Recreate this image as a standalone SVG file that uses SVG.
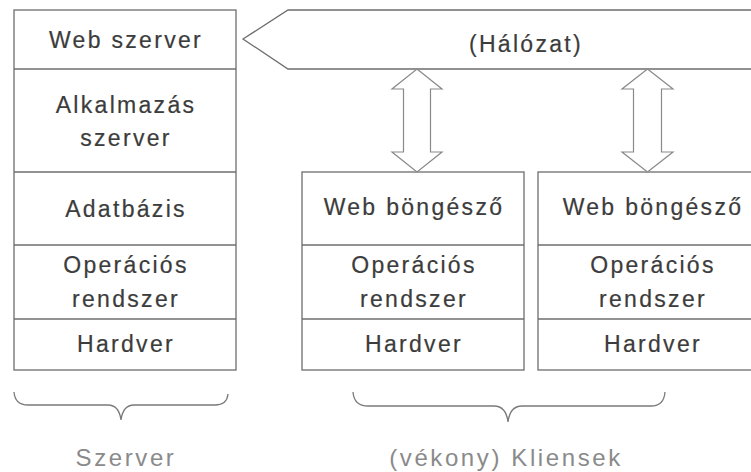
<svg xmlns="http://www.w3.org/2000/svg" width="751" height="472" viewBox="0 0 751 472">
  <style>
    .box { fill: #ffffff; stroke: #6e6e6e; stroke-width: 1.3; }
    .sep { stroke: #6e6e6e; stroke-width: 1.3; }
    .lbl { font-family: "Liberation Sans", Arial, sans-serif; font-size: 23px; letter-spacing: 2.3px; fill: #3c3c3c; stroke: #3c3c3c; stroke-width: 0.2; text-anchor: middle; }
    .cap { font-family: "Liberation Sans", Arial, sans-serif; font-size: 24px; letter-spacing: 2.6px; fill: #8a8a8a; text-anchor: middle; }
    .brace { fill: none; stroke: #7a7a7a; stroke-width: 1.3; }
    .dbl { fill: #ffffff; stroke: #8a8a8a; stroke-width: 1.2; stroke-linejoin: miter; }
  </style>
  <rect width="751" height="472" fill="#ffffff"/>

  <!-- server stack -->
  <g id="server">
    <rect class="box" x="14" y="10" width="222" height="360"/>
    <line class="sep" x1="14" y1="69" x2="236" y2="69"/>
    <line class="sep" x1="14" y1="172" x2="236" y2="172"/>
    <line class="sep" x1="14" y1="245" x2="236" y2="245"/>
    <line class="sep" x1="14" y1="319" x2="236" y2="319"/>
    <g id="server-web"><text class="lbl" x="126" y="48">Web szerver</text></g>
    <g id="server-app"><text class="lbl" x="126" y="113">Alkalmazás</text><text class="lbl" x="126" y="146">szerver</text></g>
    <g id="server-db"><text class="lbl" x="126" y="217">Adatbázis</text></g>
    <g id="server-os"><text class="lbl" x="126" y="273">Operációs</text><text class="lbl" x="126" y="307">rendszer</text></g>
    <g id="server-hw"><text class="lbl" x="126" y="352">Hardver</text></g>
  </g>

  <!-- network band -->
  <g id="network">
    <polygon class="box" points="243,39 288,10 762,10 762,69 288,69"/>
    <text class="lbl" x="526" y="52">(Hálózat)</text>
  </g>

  <!-- thin client 1 -->
  <g id="client1">
    <rect class="box" x="302" y="172" width="222" height="198"/>
    <line class="sep" x1="302" y1="245" x2="524" y2="245"/>
    <line class="sep" x1="302" y1="319" x2="524" y2="319"/>
    <text class="lbl" x="414" y="215">Web böngésző</text>
    <text class="lbl" x="414" y="273">Operációs</text>
    <text class="lbl" x="414" y="307">rendszer</text>
    <text class="lbl" x="414" y="352">Hardver</text>
  </g>

  <!-- thin client 2 -->
  <g id="client2">
    <rect class="box" x="538" y="172" width="230" height="198"/>
    <line class="sep" x1="538" y1="245" x2="768" y2="245"/>
    <line class="sep" x1="538" y1="319" x2="768" y2="319"/>
    <text class="lbl" x="653" y="215">Web böngésző</text>
    <text class="lbl" x="653" y="273">Operációs</text>
    <text class="lbl" x="653" y="307">rendszer</text>
    <text class="lbl" x="653" y="352">Hardver</text>
  </g>

  <!-- connectors: block double arrows between network and clients -->
  <g id="connectors">
    <polygon class="dbl" points="417,69 442,89 430.5,89 430.5,152 442,152 417,172 392,152 403.5,152 403.5,89 392,89"/>
    <polygon class="dbl" points="647.5,69 673,89 661.5,89 661.5,152 673,152 647.5,172 622,152 633.5,152 633.5,89 622,89"/>
  </g>

  <!-- grouping braces and captions -->
  <g id="server-brace">
    <path class="brace" d="M14,392 Q15,405 28,405 L108,405 Q119,405 121,420 Q123,405 134,405 L215,405 Q227,405 228,394"/>
    <text class="cap" x="126" y="466">Szerver</text>
  </g>
  <g id="clients-brace">
    <path class="brace" d="M353,392 Q354,406 368,406 L494,406 Q506,406 508,422 Q510,406 522,406 L651,406 Q664,406 665,392"/>
    <text class="cap" x="506" y="466">(vékony) Kliensek</text>
  </g>
</svg>
